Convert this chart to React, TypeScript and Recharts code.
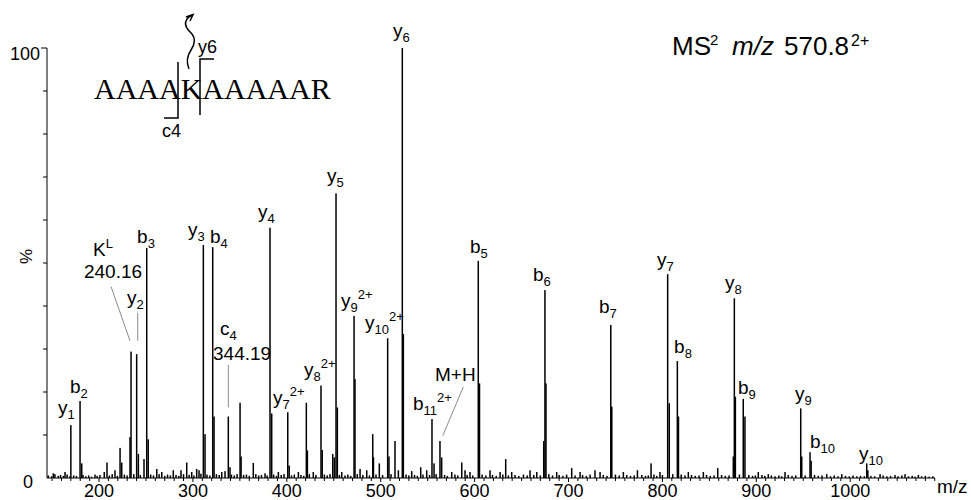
import React from 'react';
import { ComposedChart, Bar, XAxis, YAxis, ReferenceDot, ReferenceLine, Customized } from 'recharts';

const FONT = '"Liberation Sans", Arial, Helvetica, sans-serif';
const SERIF = '"Liberation Serif", "Times New Roman", serif';

// labelled fragment ions [m/z, %]
const ION_PEAKS: [number, number][] = [
  [170.0, 12.3], [179.8, 17.9], [234.1, 29.4], [240.1, 28.8], [250.8, 53.5],
  [311.1, 54.2], [321.1, 53.7], [337.7, 14.3], [382.1, 58.2], [401.0, 15.3],
  [436.4, 21.5], [452.4, 66.2], [471.6, 37.7], [507.4, 32.5], [523.0, 100],
  [554.6, 13.7], [563.1, 8.6], [603.9, 50.5], [674.9, 43.7], [745.0, 35.6],
  [805.6, 47.4], [815.9, 27.2], [876.6, 41.8], [886.1, 18.4], [947.3, 16.2],
  [957.2, 6.0], [1017.6, 3.4],
];

// unlabelled peaks
const OTHER_PEAKS: [number, number][] = [
  [208.5, 3.6], [222.4, 7.0], [224.2, 3.6], [247.9, 4.4], [350.2, 17.5],
  [364.3, 3.5], [420.8, 17.5], [448.9, 5.6], [450.6, 4.8], [491.5, 10.2],
  [498.5, 3.4], [515.2, 8.6], [586.3, 3.6], [633.1, 4.4], [703.4, 2.3],
  [787.9, 3.4], [858.9, 2.3],
];

// isotope / shoulder peaks
const ISOTOPE_PEAKS: [number, number][] = [
  [181.6, 3.4], [233.0, 9.5], [241.9, 5.6], [252.4, 9.0], [312.9, 10.2],
  [322.5, 14.3], [339.5, 2.5], [351.3, 5.0], [383.9, 15.0], [402.5, 2.9],
  [421.9, 6.4], [437.7, 6.5], [453.8, 16.4], [472.6, 23.0], [492.3, 4.8],
  [508.8, 5.0], [524.1, 33.5], [556.8, 3.4], [564.9, 4.8], [605.2, 22.0],
  [673.6, 8.6], [676.0, 22.0], [746.1, 16.6], [807.3, 17.4], [817.1, 14.3],
  [875.5, 5.0], [877.7, 18.9], [887.9, 14.3], [948.4, 5.0], [958.4, 4.0],
  [1018.8, 1.8],
];

// small peaks standing out of the noise
const MINOR_PEAKS: [number, number][] = [
  [151.3, 1.1], [163.8, 1.4], [195.7, 0.8], [205.6, 1.4], [217.0, 1.8],
  [261.5, 2.1], [266.8, 1.4], [279.1, 1.8], [287.3, 1.8], [293.4, 3.6],
  [298.7, 1.4], [304.0, 2.1], [306.5, 1.8], [330.7, 1.4], [334.2, 1.6],
  [376.8, 1.1], [391.0, 1.4], [412.3, 1.4], [428.2, 1.4], [458.5, 1.4],
  [478.0, 2.1], [485.1, 1.8], [518.8, 1.8], [533.0, 1.6], [542.6, 2.5],
  [549.0, 1.8], [575.6, 1.4], [589.8, 1.8], [595.1, 1.4], [616.4, 1.8],
  [627.1, 1.4], [639.5, 1.4], [659.0, 1.8], [666.2, 1.4], [687.4, 1.4],
  [712.3, 1.4], [728.2, 1.8], [733.6, 1.4], [758.4, 1.4], [773.4, 1.8],
  [797.4, 1.4], [827.6, 1.4], [843.6, 1.4], [902.1, 1.4], [912.8, 0.9],
  [930.6, 1.4], [975.0, 0.9], [991.0, 0.9], [1031.8, 0.9], [1047.7, 0.7],
  [1058.4, 0.9], [1072.6, 0.7],
];

// baseline noise
const NOISE: [number, number][] = [
  [146, 0.6], [149.5, 0.4], [153, 0.9], [156.5, 0.5], [159, 0.7], [162, 0.5], [166, 0.8], [169, 0.4],
  [173, 0.6], [176, 0.5], [183, 0.7], [186, 0.4], [189, 0.6], [192, 0.3], [198, 0.5], [201, 0.7],
  [211, 0.6], [214, 0.9], [219.5, 0.5], [227, 0.8], [230, 0.6], [237, 0.9], [244, 0.7], [255, 0.8],
  [258, 0.6], [264, 0.9], [270, 0.5], [273, 0.8], [276, 0.6], [282, 0.7], [285, 0.5], [290, 0.9],
  [296, 0.7], [301, 0.6], [308.5, 1.0], [315, 0.8], [318, 0.6], [325, 0.9], [328, 0.7], [341, 0.8],
  [344, 0.6], [347, 0.9], [354, 0.7], [357, 0.8], [360, 0.5], [367, 0.9], [370, 0.6], [373, 0.7],
  [379, 0.6], [386, 0.8], [389, 0.5], [394, 0.7], [397, 0.9], [405, 0.6], [408, 0.8], [415, 0.7],
  [418, 0.5], [424, 0.9], [431, 0.7], [440, 0.8], [443, 0.6], [446, 0.9], [456, 0.7], [462, 0.6],
  [465, 0.8], [468, 0.5], [475, 0.9], [481, 0.7], [488, 0.6], [495, 0.8], [502, 0.7], [511, 0.9],
  [527, 0.8], [530, 0.6], [536, 0.7], [539, 0.5], [545, 0.8], [552, 0.7], [559, 0.9], [568, 0.7],
  [571, 0.5], [579, 0.8], [582, 0.6], [592, 0.7], [598, 0.6], [608, 0.8], [612, 0.6], [619, 0.7],
  [623, 0.5], [630, 0.8], [636, 0.6], [643, 0.7], [647, 0.5], [652, 0.8], [656, 0.6], [663, 0.7],
  [670, 0.6], [679, 0.9], [683, 0.6], [690, 0.7], [694, 0.5], [698, 0.8], [707, 0.6], [715, 0.7],
  [719, 0.5], [723, 0.8], [737, 0.7], [741, 0.5], [750, 0.8], [754, 0.6], [762, 0.7], [766, 0.5],
  [770, 0.6], [778, 0.7], [782, 0.5], [785, 0.6], [791, 0.8], [794, 0.5], [800, 0.7], [811, 0.9],
  [820, 0.8], [824, 0.6], [831, 0.7], [835, 0.5], [839, 0.6], [847, 0.7], [851, 0.5], [855, 0.6],
  [863, 0.7], [867, 0.5], [871, 0.6], [882, 0.8], [892, 0.7], [896, 0.5], [899, 0.6], [906, 0.7],
  [909, 0.5], [916, 0.6], [920, 0.4], [924, 0.6], [927, 0.4], [934, 0.7], [938, 0.5], [942, 0.6],
  [952, 0.6], [962, 0.7], [966, 0.5], [970, 0.6], [979, 0.4], [983, 0.6], [987, 0.4], [995, 0.5],
  [999, 0.4], [1003, 0.6], [1007, 0.4], [1011, 0.5], [1015, 0.4], [1022, 0.5], [1026, 0.4], [1035, 0.6],
  [1039, 0.4], [1043, 0.5], [1051, 0.4], [1055, 0.6], [1062, 0.4], [1066, 0.5], [1069, 0.3], [1076, 0.4],
  [1080, 0.5], [1084, 0.3], [1088, 0.4],
];

const X_MAJOR_TICKS = [200, 300, 400, 500, 600, 700, 800, 900, 1000];
const X_MINOR_TICKS = Array.from({ length: 95 }, (_, i) => 150 + i * 10);
const Y_TICKS = [0, 10, 20, 30, 40, 50, 60, 70, 80, 90, 100];
const Y_LABELED = [0, 100];
const X_DOMAIN: [number, number] = [144.6, 1090.3];

type Lab = { main: string; sub?: string; sup?: string; mz: number; int: number };
const LABELS: Lab[] = [
  { main: 'y', sub: '6', mz: 513.1, int: 102.6 },
  { main: 'y', sub: '5', mz: 442.8, int: 68.8 },
  { main: 'y', sub: '4', mz: 369.3, int: 60.4 },
  { main: 'y', sub: '3', mz: 294.8, int: 56.2 },
  { main: 'b', sub: '4', mz: 318.2, int: 54.7 },
  { main: 'b', sub: '3', mz: 240.5, int: 54.7 },
  { main: 'K', sup: 'L', mz: 193.6, int: 51.6 },
  { main: '240.16', mz: 184.0, int: 46.5 },
  { main: 'y', sub: '2', mz: 229.8, int: 40.4 },
  { main: 'b', sub: '2', mz: 169.1, int: 19.8 },
  { main: 'y', sub: '1', mz: 156.3, int: 14.8 },
  { main: 'c', sub: '4', mz: 328.9, int: 33.3 },
  { main: '344.19', mz: 321.4, int: 27.4 },
  { main: 'y', sub: '7', sup: '2+', mz: 385.3, int: 17.2 },
  { main: 'y', sub: '8', sup: '2+', mz: 418.3, int: 23.7 },
  { main: 'y', sub: '9', sup: '2+', mz: 457.7, int: 39.7 },
  { main: 'y', sub: '10', sup: '2+', mz: 483.3, int: 34.6 },
  { main: 'b', sub: '11', sup: '2+', mz: 534.4, int: 15.8 },
  { main: 'M+H', mz: 557.8, int: 22.6 },
  { main: 'b', sub: '5', mz: 595.1, int: 52.3 },
  { main: 'b', sub: '6', mz: 662.2, int: 45.8 },
  { main: 'b', sub: '7', mz: 732.5, int: 38.4 },
  { main: 'y', sub: '7', mz: 794.3, int: 49.3 },
  { main: 'y', sub: '8', mz: 866.7, int: 43.9 },
  { main: 'b', sub: '8', mz: 812.4, int: 29.1 },
  { main: 'b', sub: '9', mz: 880.5, int: 19.5 },
  { main: 'y', sub: '9', mz: 941.2, int: 18.1 },
  { main: 'b', sub: '10', mz: 957.2, int: 7.0 },
  { main: 'y', sub: '10', mz: 1009.4, int: 4.2 },
];

// leader lines [x1, y1, x2, y2] in data units
const LEADERS: [number, number, number, number][] = [
  [212.8, 44.5, 233.0, 31.9],
  [241.2, 38.4, 241.2, 31.9],
  [337.7, 26.3, 337.7, 16.4],
  [588.0, 21.2, 566.0, 9.8],
];

const DATA = [...ION_PEAKS, ...OTHER_PEAKS, ...ISOTOPE_PEAKS, ...MINOR_PEAKS, ...NOISE]
  .map(([mz, int]) => ({ mz, int }))
  .sort((a, b) => a.mz - b.mz);

const Stick = (p: any) => {
  const { x, y, width, height } = p;
  if (!(height > 0)) return <g />;
  const cx = x + width / 2;
  return <rect x={cx - 0.75} y={y} width={1.5} height={height} fill="#000" />;
};

const XTick = (p: any) => {
  const { x, y, payload } = p;
  const v = payload.value;
  const major = X_MAJOR_TICKS.includes(v);
  return (
    <g>
      <line x1={x} x2={x} y1={y} y2={y + (major ? 4 : 3)} stroke="#000" strokeWidth={1} />
      {major && (
        <text x={x} y={y + 19} textAnchor="middle" fontFamily={FONT} fontSize={18} fill="#000">
          {v}
        </text>
      )}
    </g>
  );
};

const YTick = (p: any) => {
  const { x, y, payload } = p;
  const v = payload.value;
  return (
    <g>
      {v !== 0 && <line x1={x - (v === 100 ? 6 : 4)} x2={x} y1={y} y2={y} stroke="#000" strokeWidth={1} />}
      {Y_LABELED.includes(v) && (
        <text x={v === 0 ? x - 14 : x - 7} y={v === 0 ? y + 10 : y + 12} textAnchor="end" fontFamily={FONT} fontSize={18} fill="#000">
          {v}
        </text>
      )}
    </g>
  );
};

const PeakLabel = ({ cx, cy, lab }: { cx: number; cy: number; lab: Lab }) => (
  <text x={cx} y={cy} fontFamily={FONT} fontSize={19} fill="#000">
    {lab.main}
    {lab.sub && (
      <tspan fontSize={13} dy={5}>
        {lab.sub}
      </tspan>
    )}
    {lab.sup && (
      <tspan fontSize={13} dy={lab.sub ? -13 : -8}>
        {lab.sup}
      </tspan>
    )}
  </text>
);

const Decorations = () => (
  <g>
    {/* title */}
    <text x={672} y={55} fontFamily={FONT} fontSize={26} fill="#000">MS</text>
    <text x={710} y={45} fontFamily={FONT} fontSize={15} fill="#000">2</text>
    <text x={732} y={55} fontFamily={FONT} fontSize={26} fontStyle="italic" fill="#000">m/z</text>
    <text x={784} y={55} fontFamily={FONT} fontSize={26} fill="#000">570.8</text>
    <text x={851} y={46} fontFamily={FONT} fontSize={16} fill="#000">2+</text>
    {/* peptide sequence with fragmentation marks */}
    <text x={94} y={99} fontFamily={SERIF} fontSize={30} fill="#000">AAAAKAAAAAR</text>
    <path d="M178,62 L178,118 L164,118" fill="none" stroke="#000" strokeWidth={1.5} />
    <text x={162} y={137} fontFamily={FONT} fontSize={18} fill="#000">c4</text>
    <path d="M200,115 L200,59 L214,59" fill="none" stroke="#000" strokeWidth={1.5} />
    <text x={198} y={53} fontFamily={FONT} fontSize={18} fill="#000">y6</text>
    <path
      d="M189,69 C186,62 187,56 191,50 C195,44 196,39 192,34 C188,30 184,26 186,21 C187,18 190,16 193,15"
      fill="none"
      stroke="#000"
      strokeWidth={1.5}
    />
    <path d="M186,17 L193,14.5 L190,21" fill="none" stroke="#000" strokeWidth={1.5} />
    {/* axis titles */}
    <text x={32} y={256.5} transform="rotate(-90 32 256.5)" textAnchor="middle" fontFamily={FONT} fontSize={17} fill="#000">
      %
    </text>
    <text x={937} y={493} fontFamily={FONT} fontSize={19} fill="#000">m/z</text>
  </g>
);

export default function App() {
  return (
    <div style={{ position: 'absolute', left: 0, top: 0, width: 971, height: 500, background: '#fff' }}>
      <ComposedChart width={971} height={500} data={DATA} margin={{ top: 48, right: 36, bottom: 0, left: 0 }}>
        <XAxis
          dataKey="mz"
          type="number"
          domain={X_DOMAIN}
          allowDataOverflow
          ticks={X_MINOR_TICKS}
          interval={0}
          tick={<XTick />}
          tickLine={false}
          tickSize={0}
          tickMargin={0}
          height={22}
          axisLine={{ stroke: '#000', strokeWidth: 1 }}
        />
        <YAxis
          type="number"
          domain={[0, 100]}
          ticks={Y_TICKS}
          interval={0}
          tick={<YTick />}
          tickLine={false}
          tickSize={0}
          tickMargin={0}
          width={47}
          axisLine={{ stroke: '#000', strokeWidth: 1 }}
        />
        <Bar dataKey="int" shape={<Stick />} isAnimationActive={false} />
        {LEADERS.map(([x1, y1, x2, y2], i) => (
          <ReferenceLine
            key={`l${i}`}
            segment={[{ x: x1, y: y1 }, { x: x2, y: y2 }]}
            stroke="#8c8c8c"
            strokeWidth={1}
            ifOverflow="visible"
          />
        ))}
        {LABELS.map((lab, i) => (
          <ReferenceDot
            key={`d${i}`}
            x={lab.mz}
            y={lab.int}
            r={0}
            ifOverflow="visible"
            shape={(p: any) => <PeakLabel cx={p.cx} cy={p.cy} lab={lab} />}
          />
        ))}
        <Customized component={<Decorations />} />
      </ComposedChart>
    </div>
  );
}
